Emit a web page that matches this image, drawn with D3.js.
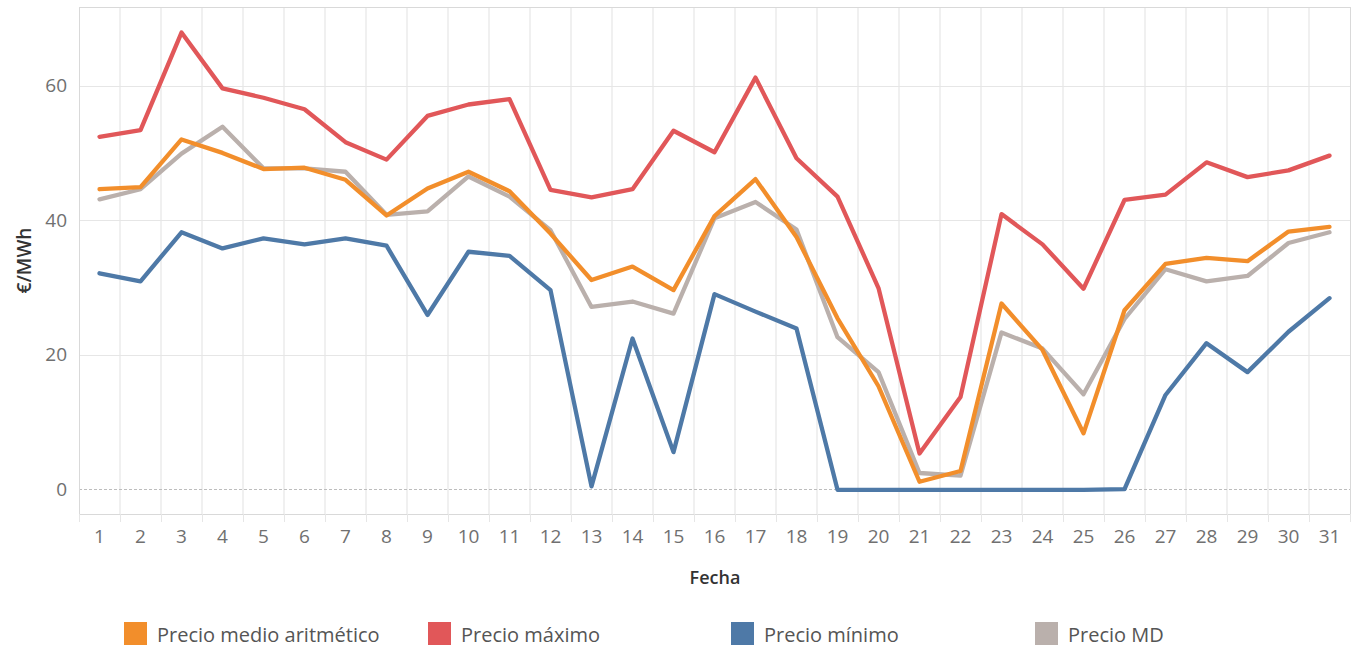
<!DOCTYPE html>
<html>
<head>
<meta charset="utf-8">
<script src="https://cdn.jsdelivr.net/npm/d3@7"></script>
<style>
  body { margin: 0; background: #fff; }
  svg { display: block; font-family: "Open Sans", "Lato", sans-serif; }
</style>
</head>
<body>
<div id="chart"></div>
<script>
// días del mes
const days = d3.range(1, 32);

// series (€/MWh)
const precioMedio = [44.6, 44.9, 52.0, 50.0, 47.6, 47.8, 46.0, 40.7, 44.7, 47.2,
  44.3, 38.0, 31.1, 33.1, 29.6, 40.6, 46.1, 37.5, 25.4, 15.3,
  1.1, 2.7, 27.6, 20.7, 8.3, 26.6, 33.5, 34.4, 33.9, 38.3, 39.0];
const precioMax = [52.4, 53.4, 67.9, 59.6, 58.2, 56.5, 51.6, 49.0, 55.5, 57.2,
  58.0, 44.5, 43.4, 44.6, 53.3, 50.1, 61.2, 49.2, 43.5, 29.9,
  5.3, 13.7, 40.9, 36.4, 29.8, 43.0, 43.8, 48.6, 46.4, 47.4, 49.6];
const precioMin = [32.1, 30.9, 38.2, 35.8, 37.3, 36.4, 37.3, 36.2, 25.9, 35.3,
  34.7, 29.6, 0.4, 22.4, 5.5, 29.0, 26.4, 23.9, -0.1, -0.1,
  -0.1, -0.1, -0.1, -0.1, -0.1, 0.0, 14.0, 21.7, 17.4, 23.4, 28.4];
const precioMD = [43.1, 44.6, 49.9, 53.9, 47.7, 47.7, 47.2, 40.8, 41.3, 46.5,
  43.5, 38.5, 27.1, 27.9, 26.1, 40.3, 42.7, 38.6, 22.6, 17.4,
  2.4, 2.0, 23.3, 20.9, 14.1, 25.3, 32.7, 30.9, 31.7, 36.6, 38.2];

const yTicks = [0, 20, 40, 60];

const series = [
  { name: "Precio MD", values: precioMD, color: "#BAB0AC" },
  { name: "Precio mínimo", values: precioMin, color: "#4E79A7" },
  { name: "Precio máximo", values: precioMax, color: "#E15759" },
  { name: "Precio medio aritmético", values: precioMedio, color: "#F28E2B" }
];
const legendOrder = ["Precio medio aritmético", "Precio máximo", "Precio mínimo", "Precio MD"];

const width = 1358, height = 649;
const m = { left: 79, right: 1350, top: 7, bottom: 514 };

const svg = d3.select("#chart").append("svg")
  .attr("width", width).attr("height", height);

const x = d3.scaleBand().domain(days).range([m.left, m.right]).padding(0);
const y = d3.scaleLinear().domain([-3.7, 71.7]).range([m.bottom, m.top]);
const cx = d => x(d) + x.bandwidth() / 2;

// rejilla vertical (límites de banda)
svg.append("g").selectAll("line")
  .data(days.slice(1))
  .enter().append("line")
  .attr("x1", d => x(d)).attr("x2", d => x(d))
  .attr("y1", m.top).attr("y2", m.bottom)
  .attr("stroke", "#e6e6e6").attr("stroke-width", 1.2);

// rejilla horizontal
svg.append("g").selectAll("line")
  .data(yTicks.filter(t => t !== 0))
  .enter().append("line")
  .attr("x1", m.left).attr("x2", m.right)
  .attr("y1", d => Math.round(y(d)) + 0.5).attr("y2", d => Math.round(y(d)) + 0.5)
  .attr("stroke", "#e6e6e6").attr("stroke-width", 1.2);

// línea de cero
svg.append("line")
  .attr("x1", m.left).attr("x2", m.right)
  .attr("y1", Math.round(y(0)) + 0.5).attr("y2", Math.round(y(0)) + 0.5)
  .attr("stroke", "#bdbdbd").attr("stroke-dasharray", "3,2").attr("stroke-width", 1);

// marco
svg.append("rect")
  .attr("x", m.left + 0.5).attr("y", m.top + 0.5)
  .attr("width", m.right - m.left).attr("height", m.bottom - m.top)
  .attr("fill", "none").attr("stroke", "#d9d9d9").attr("stroke-width", 1);

// eje X
const xAxis = svg.append("g")
  .attr("transform", `translate(0,${m.bottom})`);
xAxis.selectAll("line.tick")
  .data(days.concat([32]))
  .enter().append("line")
  .attr("class", "tick")
  .attr("x1", d => d === 32 ? m.right + 0.5 : x(d) + 0.5)
  .attr("x2", d => d === 32 ? m.right + 0.5 : x(d) + 0.5)
  .attr("y1", 0).attr("y2", 8)
  .attr("stroke", "#e6e6e6");
xAxis.selectAll("text")
  .data(days)
  .enter().append("text")
  .attr("x", d => cx(d)).attr("y", 29)
  .attr("text-anchor", "middle")
  .attr("fill", "#707070").attr("font-size", 19)
  .text(d => d);

// eje Y
const yAxis = d3.axisLeft(y).tickValues(yTicks).tickSize(0).tickPadding(12);
svg.append("g")
  .attr("transform", `translate(${m.left},0)`)
  .call(yAxis)
  .call(g => g.select(".domain").remove())
  .call(g => g.selectAll("text")
    .attr("fill", "#707070").attr("font-size", 19)
    .attr("font-family", "'Open Sans', Lato, sans-serif"));

// títulos
svg.append("text")
  .attr("transform", `translate(31,${(m.top + m.bottom) / 2}) rotate(-90)`)
  .attr("text-anchor", "middle")
  .attr("fill", "#333").attr("font-size", 19).attr("font-weight", 600)
  .text("€/MWh");
svg.append("text")
  .attr("x", 715).attr("y", 584)
  .attr("text-anchor", "middle")
  .attr("fill", "#333").attr("font-size", 18).attr("font-weight", 600)
  .text("Fecha");

// líneas
const line = d3.line()
  .x((v, i) => cx(days[i]))
  .y(v => y(v));

svg.append("g").selectAll("path")
  .data(series)
  .enter().append("path")
  .attr("d", d => line(d.values))
  .attr("fill", "none")
  .attr("stroke", d => d.color)
  .attr("stroke-width", 4.3)
  .attr("stroke-linejoin", "round")
  .attr("stroke-linecap", "round");

// leyenda
const legendX = [124, 428, 731, 1035];
const legend = svg.append("g").selectAll("g")
  .data(legendOrder)
  .enter().append("g")
  .attr("transform", (d, i) => `translate(${legendX[i]},622)`);
legend.append("rect")
  .attr("width", 23).attr("height", 23)
  .attr("fill", d => series.find(s => s.name === d).color);
legend.append("text")
  .attr("x", 33).attr("y", 20)
  .attr("fill", "#555").attr("font-size", 20)
  .text(d => d);
</script>
</body>
</html>
